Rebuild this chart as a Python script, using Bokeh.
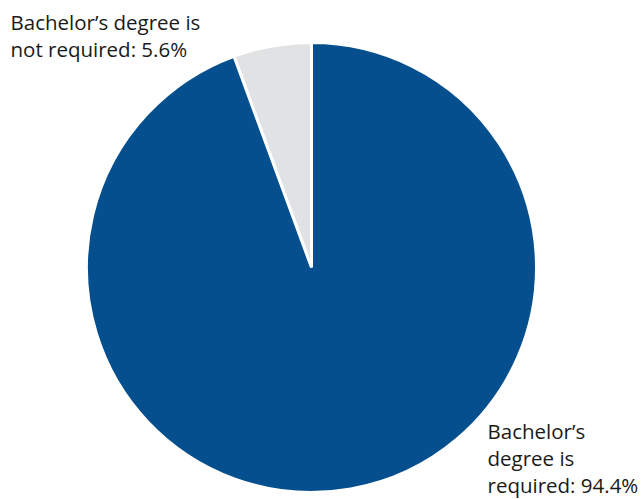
import numpy as np
from bokeh.plotting import figure
from bokeh.models import Range1d, ColumnDataSource
from bokeh.core.properties import value
from bokeh.embed import file_html
from bokeh.resources import INLINE

categories = ["Bachelor\u2019s degree is not required", "Bachelor\u2019s degree is required"]
shares = [5.6, 94.4]
colors = ["#e1e2e4", "#054f8e"]
label_lines = [
    ["Bachelor\u2019s degree is", "not required: 5.6%"],
    ["Bachelor\u2019s", "degree is", "required: 94.4%"],
]

W, H = 644, 499
p = figure(width=W, height=H, output_backend="svg", toolbar_location=None,
           x_range=Range1d(0, W), y_range=Range1d(0, H), min_border=0)
p.axis.visible = False
p.grid.visible = False
p.outline_line_color = None
p.background_fill_color = "white"

cx, cy, r = 311, H - 267, 225
total = sum(shares)
angles = np.array(shares) / total * 2 * np.pi
ends = np.pi / 2 + np.cumsum(angles)
starts = ends - angles
src = ColumnDataSource(dict(start=starts, end=ends, color=colors, cat=categories))
p.wedge(x=cx, y=cy, radius=r, start_angle="start", end_angle="end",
        fill_color="color", line_color="white", line_width=3, source=src)

font = value("Open Sans")
fs = "20.5px"
lh = 27
# small slice label (top-left)
for i, t in enumerate(label_lines[0]):
    p.text(x=[10], y=[H - 7 - i * lh], text=[t], text_font=font, text_font_size=fs,
           text_color="#1a1a1a", text_baseline="top", text_align="left")
# large slice label (bottom-right)
for i, t in enumerate(label_lines[1]):
    p.text(x=[487], y=[H - 416 - i * lh], text=[t], text_font=font, text_font_size=fs,
           text_color="#1a1a1a", text_baseline="top", text_align="left")

open("out.html", "w").write(file_html(p, INLINE))
